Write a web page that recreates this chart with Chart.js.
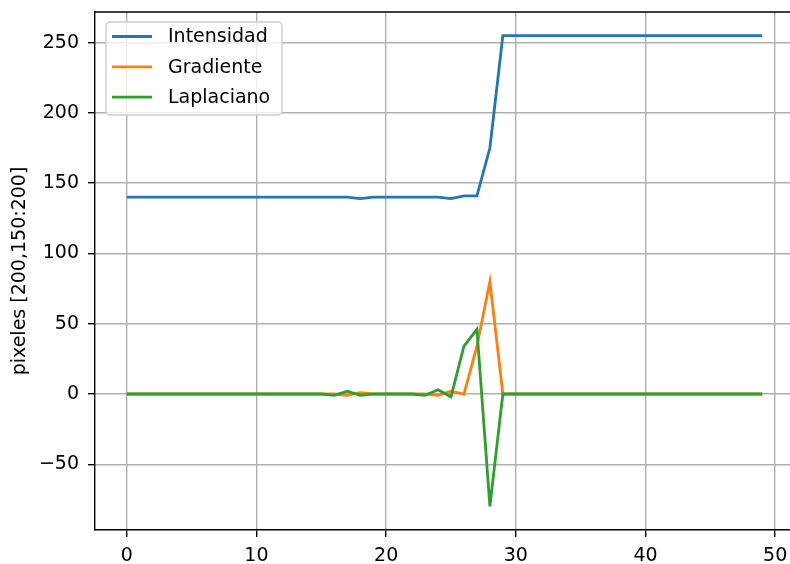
<!DOCTYPE html>
<html>
<head>
<meta charset="utf-8">
<script src="https://cdn.jsdelivr.net/npm/chart.js@4.4.1/dist/chart.umd.min.js"></script>
<style>
  html, body { margin: 0; padding: 0; background: #fff; overflow: hidden; }
  #wrap { width: 800px; height: 564px; }
</style>
</head>
<body>
<div id="wrap"><canvas id="perfil" width="800" height="564"></canvas></div>
<script>
// indices de pixel a lo largo de la fila 200, columnas 150:200
const indices = Array.from({ length: 50 }, (_, i) => i);

const intensidad = [
    140, 140, 140, 140, 140, 140, 140, 140, 140, 140,
    140, 140, 140, 140, 140, 140, 140, 140, 139, 140,
    140, 140, 140, 140, 140, 139, 141, 141, 175, 255,
    255, 255, 255, 255, 255, 255, 255, 255, 255, 255,
    255, 255, 255, 255, 255, 255, 255, 255, 255, 255
];
const gradiente = [
    0, 0, 0, 0, 0, 0, 0, 0, 0, 0,
    0, 0, 0, 0, 0, 0, 0, -1, 1, 0,
    0, 0, 0, 0, -1, 2, 0, 34, 80, 0,
    0, 0, 0, 0, 0, 0, 0, 0, 0, 0,
    0, 0, 0, 0, 0, 0, 0, 0, 0, 0
];
const laplaciano = [
    0, 0, 0, 0, 0, 0, 0, 0, 0, 0,
    0, 0, 0, 0, 0, 0, -1, 2, -1, 0,
    0, 0, 0, -1, 3, -2, 34, 46, -80, 0,
    0, 0, 0, 0, 0, 0, 0, 0, 0, 0,
    0, 0, 0, 0, 0, 0, 0, 0, 0, 0
];

const xTicks = [0, 10, 20, 30, 40, 50];
const yTicks = [-50, 0, 50, 100, 150, 200, 250];

const series = [
    { label: "Intensidad", values: intensidad, color: "#1f77b4", order: 2 },
    { label: "Gradiente", values: gradiente, color: "#ff7f0e", order: 1 },
    { label: "Laplaciano", values: laplaciano, color: "#2ca02c", order: 0 },
];

Chart.defaults.font.family = "'DejaVu Sans', sans-serif";
Chart.defaults.font.size = 19;
Chart.defaults.color = "#000";

// signo menos tipografico como en matplotlib
const conMenos = (v) => String(v).replace("-", "\u2212");

// marco superior y leyenda estilo matplotlib
const ejesYLeyenda = {
    id: "ejesYLeyenda",
    afterDatasetsDraw(chart) {
        const { ctx, chartArea } = chart;
        ctx.save();
        ctx.strokeStyle = "#000";
        ctx.lineWidth = 1.4;
        ctx.beginPath();
        ctx.moveTo(chartArea.left, chartArea.top);
        ctx.lineTo(chartArea.right, chartArea.top);
        ctx.stroke();

        // caja de leyenda
        const bx = 106, by = 22, bw = 176, bh = 93, r = 4;
        ctx.fillStyle = "rgba(255,255,255,0.8)";
        ctx.strokeStyle = "#cccccc";
        ctx.lineWidth = 1.4;
        ctx.beginPath();
        ctx.roundRect(bx, by, bw, bh, r);
        ctx.fill();
        ctx.stroke();

        ctx.font = "19px 'DejaVu Sans'";
        ctx.textBaseline = "middle";
        ctx.textAlign = "left";
        series.forEach((s, i) => {
            const y = 36.5 + i * 30.3;
            ctx.strokeStyle = s.color;
            ctx.lineWidth = 2.8;
            ctx.beginPath();
            ctx.moveTo(112, y);
            ctx.lineTo(152, y);
            ctx.stroke();
            ctx.fillStyle = "#000";
            ctx.fillText(s.label, 168, y + 1);
        });
        ctx.restore();
    }
};

new Chart(document.getElementById("perfil"), {
    type: "line",
    data: {
        datasets: series.map(s => ({
            label: s.label,
            data: indices.map((x, i) => ({ x: x, y: s.values[i] })),
            borderColor: s.color,
            backgroundColor: s.color,
            borderWidth: 2.8,
            pointRadius: 0,
            tension: 0,
            fill: false,
            order: s.order,
        })),
    },
    options: {
        responsive: false,
        animation: false,
        devicePixelRatio: 1,
        layout: { padding: { top: 12, right: 6, left: 0, bottom: 0 } },
        plugins: {
            legend: { display: false },
            tooltip: { enabled: false },
        },
        scales: {
            x: {
                type: "linear",
                min: -2.45,
                max: 51.45,
                afterBuildTicks: (scale) => { scale.ticks = xTicks.map(v => ({ value: v })); },
                afterFit: (scale) => {
                    scale.height = 34;
                    scale.paddingLeft = 0;
                    scale.paddingRight = 0;
                },
                ticks: { padding: 8, maxRotation: 0 },
                grid: { color: "#b0b0b0", lineWidth: 1.4, tickLength: 7, tickColor: "#000" },
                border: { display: true, color: "#000", width: 1.4 },
            },
            y: {
                type: "linear",
                min: -96.75,
                max: 271.75,
                afterBuildTicks: (scale) => { scale.ticks = yTicks.map(v => ({ value: v })); },
                afterFit: (scale) => {
                    scale.width = 95;
                    scale.paddingTop = 0;
                    scale.paddingBottom = 0;
                },
                ticks: { padding: 9, callback: (v) => conMenos(v) },
                grid: { color: "#b0b0b0", lineWidth: 1.4, tickLength: 7, tickColor: "#000" },
                border: { display: true, color: "#000", width: 1.4 },
                title: {
                    display: true,
                    text: "pixeles [200,150:200]",
                    padding: { top: 8.6, bottom: 0 },
                    font: { size: 19 },
                },
            },
        },
    },
    plugins: [ejesYLeyenda],
});
</script>
</body>
</html>
